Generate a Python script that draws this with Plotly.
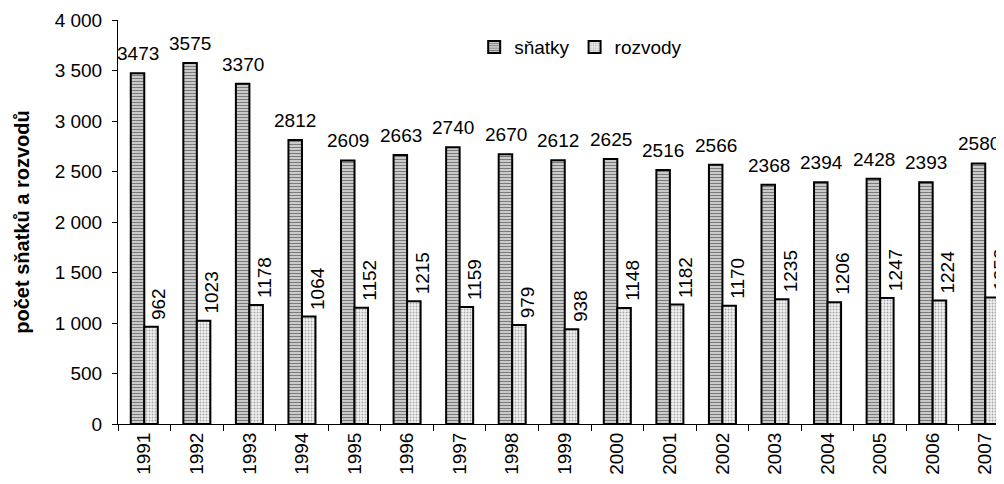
import plotly.graph_objects as go

years = ["1991", "1992", "1993", "1994", "1995", "1996", "1997", "1998", "1999",
         "2000", "2001", "2002", "2003", "2004", "2005", "2006", "2007"]
snatky = [3473, 3575, 3370, 2812, 2609, 2663, 2740, 2670, 2612, 2625, 2516, 2566,
          2368, 2394, 2428, 2393, 2580]
rozvody = [962, 1023, 1178, 1064, 1152, 1215, 1159, 979, 938, 1148, 1182, 1170,
           1235, 1206, 1247, 1224, 1252]

FONT = "Liberation Sans, Arial, sans-serif"

fig = go.Figure()
fig.add_trace(go.Bar(
    x=years, y=snatky, name="sňatky",
    marker=dict(color="#d9d9d9", line=dict(color="black", width=2),
                pattern=dict(shape="-", fgcolor="#7a7a7a", bgcolor="#e4e4e4",
                             size=3, solidity=0.5, fillmode="replace")),
))
fig.add_trace(go.Bar(
    x=years, y=rozvody, name="rozvody",
    marker=dict(color="#eeeeee", line=dict(color="black", width=2),
                pattern=dict(shape=".", fgcolor="#a6a6a6", bgcolor="#f4f4f4",
                             size=3, solidity=0.35, fillmode="replace")),
))

annotations = []
for i, v in enumerate(snatky):
    annotations.append(dict(x=i, y=v, xref="x", yref="y", text=str(v),
                            showarrow=False, xanchor="center", yanchor="bottom",
                            xshift=-6.5, yshift=7,
                            font=dict(family=FONT, size=19, color="black")))
for i, v in enumerate(rozvody):
    annotations.append(dict(x=i, y=v, xref="x", yref="y", text=str(v),
                            showarrow=False, textangle=-90, xanchor="center",
                            yanchor="bottom", xshift=15, yshift=5,
                            font=dict(family=FONT, size=19, color="black")))

fig.update_layout(
    width=996, height=476,
    margin=dict(l=110, r=0, t=12, b=60, autoexpand=False),
    paper_bgcolor="white", plot_bgcolor="white",
    barmode="group", bargap=0.486, bargroupgap=0,
    separators=", ",
    font=dict(family=FONT, size=19, color="black"),
    showlegend=True,
    annotations=annotations,
    legend=dict(orientation="h", x=0.402, y=0.933, xanchor="left", yanchor="middle",
                font=dict(family=FONT, size=19), bgcolor="rgba(0,0,0,0)",
                itemwidth=30, tracegroupgap=0, itemsizing="constant"),
    xaxis=dict(type="category", range=[-0.5, 16.357], showline=True, linecolor="black",
               linewidth=1, ticks="outside", tickson="boundaries", ticklen=6,
               tickcolor="black", tickangle=-90, showgrid=False, zeroline=False,
               automargin=False, tickfont=dict(family=FONT, size=19)),
    yaxis=dict(range=[0, 4000], dtick=500, tickformat=",d", showline=True,
               linecolor="black", linewidth=1, ticks="outside", ticklen=5,
               tickcolor="black", showgrid=False, zeroline=False,
               ticklabelstandoff=6, automargin=False,
               tickfont=dict(family=FONT, size=19),
               title=dict(text="<b>počet sňatků a rozvodů</b>", standoff=19,
                          font=dict(family=FONT, size=20))),
)

fig.write_html("out.html")
